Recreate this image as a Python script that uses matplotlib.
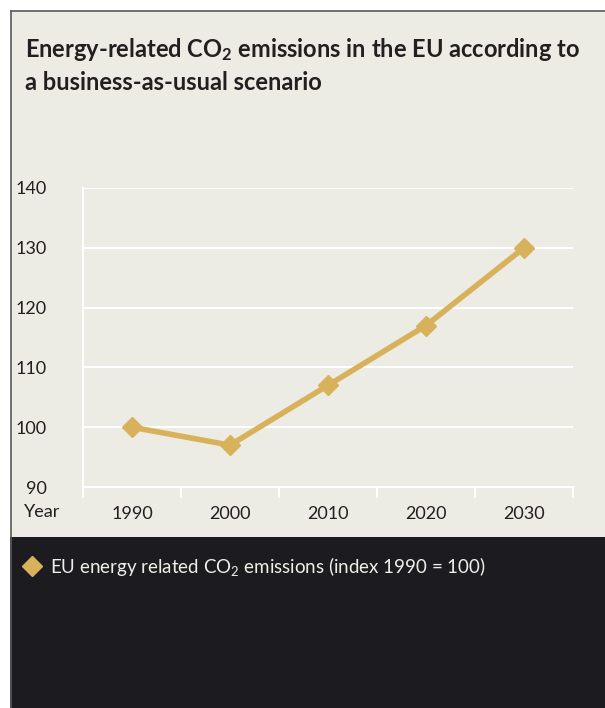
import matplotlib.pyplot as plt
from matplotlib.patches import Rectangle
from matplotlib.lines import Line2D

years = ['1990', '2000', '2010', '2020', '2030']
emissions = [100, 97, 107, 117, 130]
y_ticks = [90, 100, 110, 120, 130, 140]

bg = '#ecebe4'
dark = '#1c1b1f'
gold = '#d8b25b'
txt = '#231f20'

plt.rcParams['font.family'] = ['Lato', 'DejaVu Sans']
plt.rcParams['mathtext.fontset'] = 'custom'
plt.rcParams['mathtext.rm'] = 'Lato'
plt.rcParams['mathtext.it'] = 'Lato'
plt.rcParams['mathtext.bf'] = 'Lato:bold'

W, H = 605, 708
fig = plt.figure(figsize=(W / 100, H / 100), dpi=100, facecolor='white')

# panel backgrounds
fig.patches.append(Rectangle((10 / W, (H - 537) / H), 1 - 10 / W, 527 / H,
                             transform=fig.transFigure, facecolor=bg, edgecolor='none', zorder=-2))
fig.patches.append(Rectangle((10 / W, 0), 1 - 10 / W, (H - 537) / H,
                             transform=fig.transFigure, facecolor=dark, edgecolor='none', zorder=-2))
fig.lines.append(Line2D([10.5 / W, 10.5 / W], [0, (H - 10.5) / H], transform=fig.transFigure,
                        color='#5a5a5a', lw=1.2, zorder=-1))
fig.lines.append(Line2D([10.5 / W, 1], [(H - 10.5) / H, (H - 10.5) / H], transform=fig.transFigure,
                        color='#5a5a5a', lw=1.2, zorder=-1))

fig.text(25 / W, (H - 57) / H, 'Energy-related CO$_\\mathbf{2}$ emissions in the EU according to',
         fontsize=17, fontweight='bold', color=txt, va='baseline', ha='left')
fig.text(25 / W, (H - 90) / H, 'a business-as-usual scenario',
         fontsize=17, fontweight='bold', color=txt, va='baseline', ha='left')

ax = fig.add_axes([83 / W, 1 - 487 / H, (573 - 83) / W, (487 - 188) / H])
ax.set_facecolor('none')
x = list(range(len(years)))
ax.plot(x, emissions, color=gold, lw=4, marker='D', markersize=10, zorder=3, clip_on=False)
ax.set_xlim(-0.5, len(years) - 0.5)
ax.set_ylim(90, 140)
ax.set_yticks(y_ticks)
ax.set_yticklabels([str(t) for t in y_ticks])
ax.grid(axis='y', color='white', lw=1.5)
ax.set_axisbelow(True)
for s in ['top', 'right']:
    ax.spines[s].set_visible(False)
for s in ['left', 'bottom']:
    ax.spines[s].set_color('white')
    ax.spines[s].set_linewidth(1.5)
ax.tick_params(axis='y', length=0, labelsize=13, labelcolor=txt, pad=26)
ax.set_xticks(x)
ax.set_xticklabels(years)
ax.tick_params(axis='x', length=0, labelsize=13, labelcolor=txt, pad=14)
ax.set_xticks([i - 0.5 for i in range(len(years) + 1)], minor=True)
ax.tick_params(axis='x', which='minor', length=8, width=1.5, color='white')
fig.text(42 / W, (H - 512) / H, 'Year', fontsize=13, color=txt, ha='center', va='center')

# legend
fig.lines.append(Line2D([32 / W], [(H - 566) / H], transform=fig.transFigure, marker='D',
                        markersize=10, color=gold, lw=0))
fig.text(50 / W, (H - 566) / H, 'EU energy related CO$_2$ emissions (index 1990 = 100)',
         fontsize=13.5, color='#f0eee8', ha='left', va='center')

fig.savefig('out.png', dpi=100, facecolor='white')
